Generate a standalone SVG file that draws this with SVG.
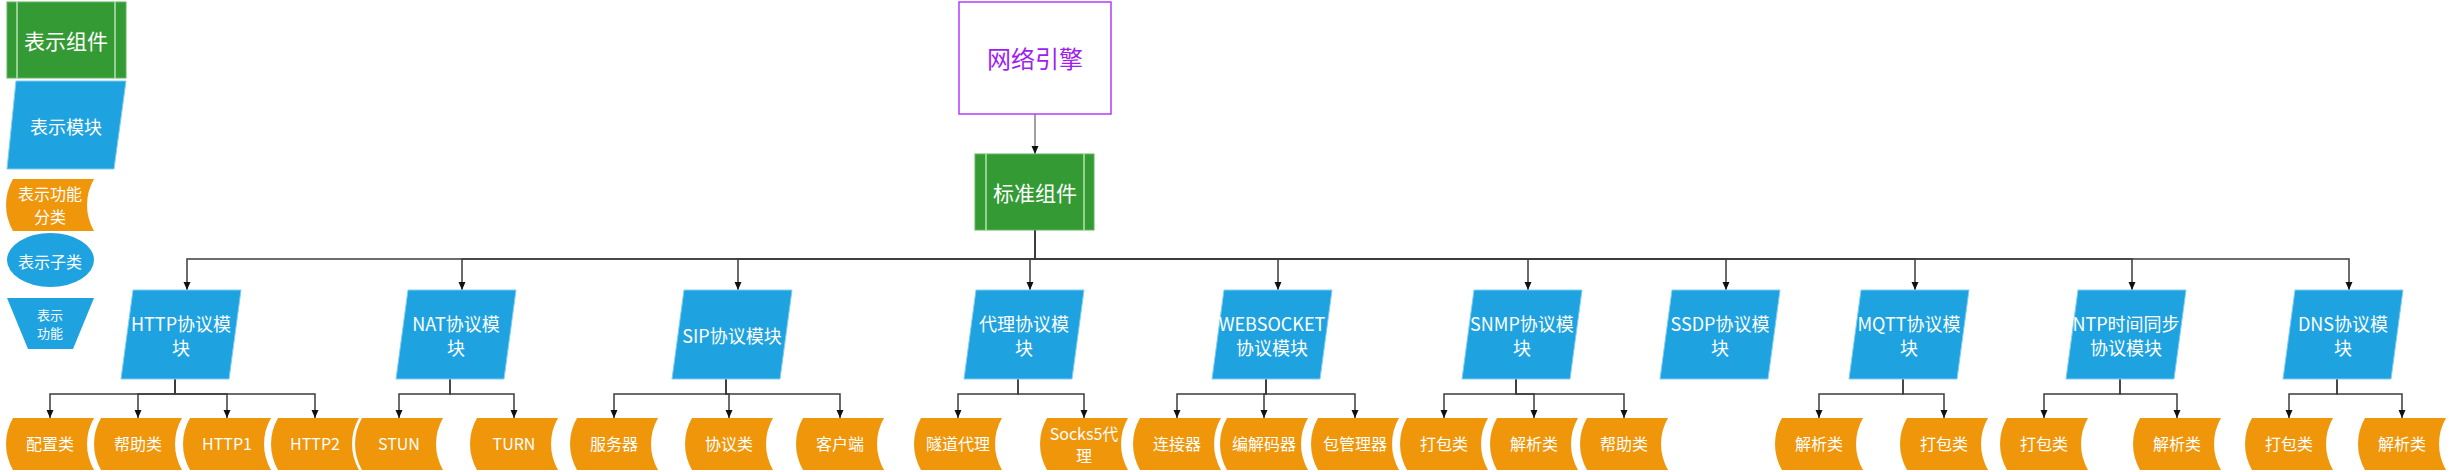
<svg xmlns="http://www.w3.org/2000/svg" xmlns:xlink="http://www.w3.org/1999/xlink" width="2452" height="472" viewBox="0 0 2452 472">
<defs>
<style>
text{font-family:"Noto Sans CJK SC","Noto Sans",sans-serif;text-anchor:middle;dominant-baseline:central;fill:#fff}
.grn{fill:#349a34;stroke:#5fb55f;stroke-width:1}
.gl{stroke:#b9e3b0;stroke-width:1.5}
.blu{fill:#1ea2e0;stroke:#7fcdf2;stroke-width:1}
.org{fill:#f0960b}
.t21{font-size:21px}
.t19{font-size:18px}
.t16{font-size:16px}
.t13{font-size:13px}
.c{fill:none;stroke:#3c3c3c;stroke-width:1.5;marker-end:url(#arr)}
</style>
<marker id="arr" markerWidth="8" markerHeight="8" refX="8" refY="4" orient="auto" markerUnits="userSpaceOnUse"><path d="M0,0.5 L8,4 L0,7.5 Z" fill="#111"/></marker>
<path id="mod" d="M-54,0 H54 L42,89 H-66 Z"/>
<path id="leaf" d="M-37,-26 H44 A52,52 0 0 0 44,26 H-37 A52,52 0 0 1 -37,-26 Z"/>
</defs>
<rect width="2452" height="472" fill="#fff"/>

<g id="legend">
<g id="legend-component"><rect class="grn" x="7" y="2" width="119" height="76"/><line class="gl" x1="17" y1="2" x2="17" y2="78"/><line class="gl" x1="115" y1="2" x2="115" y2="78"/><text class="t21" x="66" y="40">表示组件</text></g>
<g id="legend-module"><path class="blu" d="M16,81 H126 L114,169 H7 Z"/><text class="t19" x="66" y="126">表示模块</text></g>
<g id="legend-category"><use href="#leaf" class="org" x="50" y="205"/><text class="t16" x="50" y="193">表示功能</text><text class="t16" x="50" y="216">分类</text></g>
<g id="legend-sub"><ellipse cx="50.5" cy="260" rx="43.5" ry="27" fill="#1ea2e0"/><text class="t16" x="50" y="261">表示子类</text></g>
<g id="legend-func"><path d="M7,298 H94 L73,349 H28 Z" fill="#1ea2e0"/><text class="t13" x="50" y="314">表示</text><text class="t13" x="50" y="332">功能</text></g>
</g>

<g id="connectors">
<path class="c" style="stroke:#808080" d="M1035,114 V154"/>
<path class="c" d="M1035,230 V259 H187 V290"/>
<path class="c" d="M1035,230 V259 H462 V290"/>
<path class="c" d="M1035,230 V259 H738 V290"/>
<path class="c" d="M1035,230 V259 H1030 V290"/>
<path class="c" d="M1035,230 V259 H1278 V290"/>
<path class="c" d="M1035,230 V259 H1528 V290"/>
<path class="c" d="M1035,230 V259 H1726 V290"/>
<path class="c" d="M1035,230 V259 H1915 V290"/>
<path class="c" d="M1035,230 V259 H2132 V290"/>
<path class="c" d="M1035,230 V259 H2349 V290"/>
<path class="c" d="M175,379 V394 H50 V418"/>
<path class="c" d="M175,379 V394 H138 V418"/>
<path class="c" d="M175,379 V394 H227 V418"/>
<path class="c" d="M175,379 V394 H315 V418"/>
<path class="c" d="M450,379 V394 H399 V418"/>
<path class="c" d="M450,379 V394 H514 V418"/>
<path class="c" d="M726,379 V394 H614 V418"/>
<path class="c" d="M726,379 V394 H729 V418"/>
<path class="c" d="M726,379 V394 H840 V418"/>
<path class="c" d="M1018,379 V394 H958 V418"/>
<path class="c" d="M1018,379 V394 H1084 V418"/>
<path class="c" d="M1266,379 V394 H1177 V418"/>
<path class="c" d="M1266,379 V394 H1264 V418"/>
<path class="c" d="M1266,379 V394 H1355 V418"/>
<path class="c" d="M1516,379 V394 H1444 V418"/>
<path class="c" d="M1516,379 V394 H1534 V418"/>
<path class="c" d="M1516,379 V394 H1624 V418"/>
<path class="c" d="M1903,379 V394 H1819 V418"/>
<path class="c" d="M1903,379 V394 H1944 V418"/>
<path class="c" d="M2120,379 V394 H2044 V418"/>
<path class="c" d="M2120,379 V394 H2177 V418"/>
<path class="c" d="M2337,379 V394 H2289 V418"/>
<path class="c" d="M2337,379 V394 H2402 V418"/>
</g>

<g id="engine"><rect x="959" y="2" width="152" height="112" fill="#fff" stroke="#b23cff" stroke-width="1.5"/><text x="1035" y="57" style="font-size:24px;fill:#9e1ef2">网络引擎</text></g>
<g id="standard"><rect class="grn" x="975" y="154" width="119" height="76"/><line class="gl" x1="986" y1="154" x2="986" y2="230"/><line class="gl" x1="1084" y1="154" x2="1084" y2="230"/><text class="t21" x="1035" y="192">标准组件</text></g>

<g id="m-http"><use href="#mod" class="blu" x="187" y="290"/><text class="t19" x="181" y="323">HTTP协议模</text><text class="t19" x="181" y="347">块</text></g>
<g id="m-nat"><use href="#mod" class="blu" x="462" y="290"/><text class="t19" x="456" y="323">NAT协议模</text><text class="t19" x="456" y="347">块</text></g>
<g id="m-sip"><use href="#mod" class="blu" x="738" y="290"/><text class="t19" x="732" y="335">SIP协议模块</text></g>
<g id="m-proxy"><use href="#mod" class="blu" x="1030" y="290"/><text class="t19" x="1024" y="323">代理协议模</text><text class="t19" x="1024" y="347">块</text></g>
<g id="m-ws"><use href="#mod" class="blu" x="1278" y="290"/><text class="t19" x="1272" y="323">WEBSOCKET</text><text class="t19" x="1272" y="347">协议模块</text></g>
<g id="m-snmp"><use href="#mod" class="blu" x="1528" y="290"/><text class="t19" x="1522" y="323">SNMP协议模</text><text class="t19" x="1522" y="347">块</text></g>
<g id="m-ssdp"><use href="#mod" class="blu" x="1726" y="290"/><text class="t19" x="1720" y="323">SSDP协议模</text><text class="t19" x="1720" y="347">块</text></g>
<g id="m-mqtt"><use href="#mod" class="blu" x="1915" y="290"/><text class="t19" x="1909" y="323">MQTT协议模</text><text class="t19" x="1909" y="347">块</text></g>
<g id="m-ntp"><use href="#mod" class="blu" x="2132" y="290"/><text class="t19" x="2126" y="323">NTP时间同步</text><text class="t19" x="2126" y="347">协议模块</text></g>
<g id="m-dns"><use href="#mod" class="blu" x="2349" y="290"/><text class="t19" x="2343" y="323">DNS协议模</text><text class="t19" x="2343" y="347">块</text></g>

<g id="l-http-config"><use href="#leaf" class="org" x="50" y="444"/><text class="t16" x="50" y="443">配置类</text></g>
<g id="l-http-help"><use href="#leaf" class="org" x="138" y="444"/><text class="t16" x="138" y="443">帮助类</text></g>
<g id="l-http-1"><use href="#leaf" class="org" x="227" y="444"/><text class="t16" x="227" y="443">HTTP1</text></g>
<g id="l-http-2"><use href="#leaf" class="org" x="315" y="444"/><text class="t16" x="315" y="443">HTTP2</text></g>
<g id="l-nat-stun"><use href="#leaf" class="org" x="399" y="444"/><text class="t16" x="399" y="443">STUN</text></g>
<g id="l-nat-turn"><use href="#leaf" class="org" x="514" y="444"/><text class="t16" x="514" y="443">TURN</text></g>
<g id="l-sip-server"><use href="#leaf" class="org" x="614" y="444"/><text class="t16" x="614" y="443">服务器</text></g>
<g id="l-sip-proto"><use href="#leaf" class="org" x="729" y="444"/><text class="t16" x="729" y="443">协议类</text></g>
<g id="l-sip-client"><use href="#leaf" class="org" x="840" y="444"/><text class="t16" x="840" y="443">客户端</text></g>
<g id="l-proxy-tunnel"><use href="#leaf" class="org" x="958" y="444"/><text class="t16" x="958" y="443">隧道代理</text></g>
<g id="l-proxy-socks"><use href="#leaf" class="org" x="1084" y="444"/><text class="t16" x="1084" y="433">Socks5代</text><text class="t16" x="1084" y="455">理</text></g>
<g id="l-ws-conn"><use href="#leaf" class="org" x="1177" y="444"/><text class="t16" x="1177" y="443">连接器</text></g>
<g id="l-ws-codec"><use href="#leaf" class="org" x="1264" y="444"/><text class="t16" x="1264" y="443">编解码器</text></g>
<g id="l-ws-pkg"><use href="#leaf" class="org" x="1355" y="444"/><text class="t16" x="1355" y="443">包管理器</text></g>
<g id="l-snmp-pack"><use href="#leaf" class="org" x="1444" y="444"/><text class="t16" x="1444" y="443">打包类</text></g>
<g id="l-snmp-parse"><use href="#leaf" class="org" x="1534" y="444"/><text class="t16" x="1534" y="443">解析类</text></g>
<g id="l-snmp-help"><use href="#leaf" class="org" x="1624" y="444"/><text class="t16" x="1624" y="443">帮助类</text></g>
<g id="l-mqtt-parse"><use href="#leaf" class="org" x="1819" y="444"/><text class="t16" x="1819" y="443">解析类</text></g>
<g id="l-mqtt-pack"><use href="#leaf" class="org" x="1944" y="444"/><text class="t16" x="1944" y="443">打包类</text></g>
<g id="l-ntp-pack"><use href="#leaf" class="org" x="2044" y="444"/><text class="t16" x="2044" y="443">打包类</text></g>
<g id="l-ntp-parse"><use href="#leaf" class="org" x="2177" y="444"/><text class="t16" x="2177" y="443">解析类</text></g>
<g id="l-dns-pack"><use href="#leaf" class="org" x="2289" y="444"/><text class="t16" x="2289" y="443">打包类</text></g>
<g id="l-dns-parse"><use href="#leaf" class="org" x="2402" y="444"/><text class="t16" x="2402" y="443">解析类</text></g>
</svg>
